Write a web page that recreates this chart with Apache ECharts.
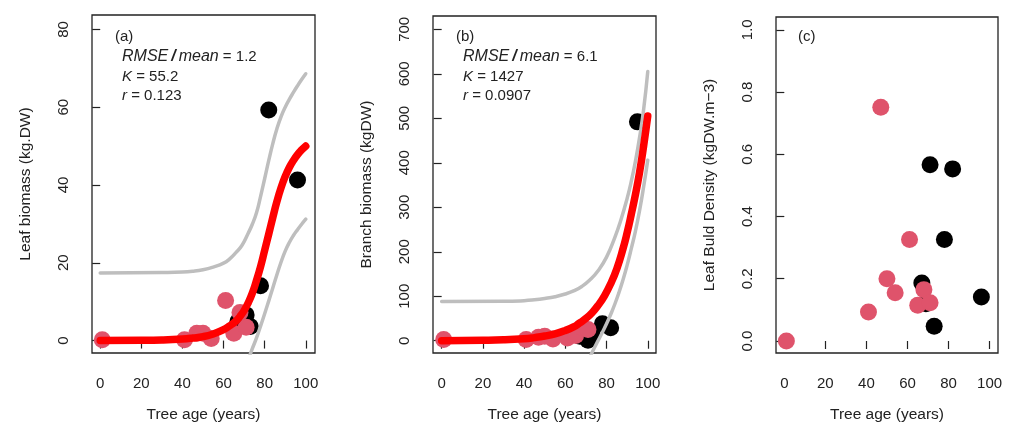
<!DOCTYPE html>
<html>
<head>
<meta charset="utf-8">
<script src="https://cdn.jsdelivr.net/npm/echarts@6.0.0/dist/echarts.min.js"></script>
<style>html,body{margin:0;padding:0;background:#fff}#c{width:1010px;height:430px}</style>
</head>
<body>
<div id="c"></div>
<script>
// ---- data ----
var xTicks = [0, 20, 40, 60, 80, 100];
var yTicksA = [0, 20, 40, 60, 80];
var yTicksB = [0, 100, 200, 300, 400, 500, 600, 700];
var yTicksC = [0, 0.2, 0.4, 0.6, 0.8, 1.0];

// panel (a) leaf biomass
var leafRed = [[1,0.2],[41,0.2],[47,1.9],[50,1.9],[54,0.5],[61,10.3],[65,1.9],[68,7.2],[71,3.4]];
var leafBlack = [[67,4.9],[69,4.0],[71,6.6],[73,3.6],[78,14.1],[82,59.3],[96,41.3]];
var leafFit = [[0,0],[20,0.05],[30,0.15],[40,0.4],[45,0.65],[50,1.0],[55,1.7],[60,2.8],[63,3.8],[66,5.0],[68,6.2],[70,7.7],[72,9.7],[74,12.2],[76,15.4],[78,19.0],[80,23.2],[82,27.4],[84,31.7],[86,35.8],[88,39.3],[90,42.2],[92,44.5],[94,46.3],[96,47.8],[98,49.0],[100,50.0]];
var leafUpper = [[0,17.4],[30,17.5],[40,17.6],[45,17.8],[50,18.2],[55,18.9],[60,19.9],[63,21.0],[66,22.6],[69,24.5],[72,27.6],[74,29.9],[76,32.8],[78,37.0],[80,41.6],[82,46.3],[84,50.7],[86,54.5],[88,57.6],[90,60.0],[92,62.0],[94,63.8],[96,65.5],[98,67.1],[100,68.6]];
var leafLower = [[72,-5.0],[74,-2.1],[76,0.6],[78,3.7],[80,6.9],[82,10.2],[84,13.6],[86,17.0],[88,20.2],[90,23.0],[92,25.2],[94,27.0],[96,28.5],[98,29.9],[100,31.2]];

// panel (b) branch biomass
var branchRed = [[1,3],[41,3],[47,8],[50,10],[54,4],[61,6],[65,12],[68,30],[71,25]];
var branchBlack = [[67,10],[69,12],[71,1],[73,15],[78,38],[82,29],[95,492]];
var branchFit = [[0,0.2],[20,1],[30,2],[40,4.5],[45,7],[50,10.5],[55,15.5],[60,23],[64,31],[67,40],[70,50],[73,63],[76,80],[79,101],[82,128],[85,162],[88,207],[90,243],[92,284],[94,328],[96,378],[98,438],[100,505]];
var branchUpper = [[0,88],[30,88.5],[40,90],[45,92],[50,95],[55,99],[60,105],[64,112],[68,122],[72,137],[76,158],[80,188],[84,232],[87,272],[90,320],[92,358],[94,403],[96,456],[98,520],[100,605]];
var branchLower = [[72,-36],[74,-17],[76,1],[78,19],[80,38],[82,59],[84,82],[86,108],[88,137],[90,170],[92,207],[94,246],[96,292],[98,346],[100,406]];

// panel (c) leaf bulk density
var densRed = [[1,0],[41,0.093],[47,0.751],[50,0.200],[54,0.155],[61,0.326],[65,0.115],[68,0.165],[71,0.123]];
var densBlack = [[67,0.186],[69,0.12],[71,0.566],[73,0.047],[78,0.326],[82,0.553],[96,0.141]];

// annotation texts
var notesA = ['(a)', '{i|RMSE}{sl|/}{i|mean} = 1.2', '{k|K} = 55.2', '{k|r} = 0.123'];
var notesB = ['(b)', '{i|RMSE}{sl|/}{i|mean} = 6.1', '{k|K} = 1427', '{k|r} = 0.0907'];
var notesC = ['(c)'];

// ---- chart ----
var FONT = 'Liberation Sans, Arial, sans-serif';
var TXT = '#222';
var RED_PT = '#DF536B';

var grids = [
  {left: 92, top: 15, width: 223, height: 338},
  {left: 433, top: 16, width: 223, height: 337},
  {left: 776, top: 17, width: 222, height: 336}
];
grids.forEach(function (g) {
  g.show = true; g.borderColor = '#222'; g.borderWidth = 1.3; g.backgroundColor = 'transparent';
  g.containLabel = false; g.outerBoundsMode = 'none';
});

function xAxis(i, min, max) {
  return {
    type: 'value', gridIndex: i, min: min, max: max,
    name: 'Tree age (years)', nameLocation: 'middle', nameGap: 54,
    nameTextStyle: {fontFamily: FONT, fontSize: 15.5, color: TXT},
    axisLine: {show: false}, splitLine: {show: false},
    axisTick: {show: true, inside: false, length: 8, customValues: xTicks, lineStyle: {color: '#222', width: 1.2}},
    axisLabel: {customValues: xTicks, margin: 23, fontFamily: FONT, fontSize: 15, color: TXT}
  };
}
function yAxis(i, min, max, ticks, name, fmt) {
  return {
    type: 'value', gridIndex: i, min: min, max: max,
    name: name, nameLocation: 'middle', nameGap: 58,
    nameTextStyle: {fontFamily: FONT, fontSize: 15.5, color: TXT},
    axisLine: {show: false}, splitLine: {show: false},
    axisTick: {show: true, inside: false, length: 8, customValues: ticks, lineStyle: {color: '#222', width: 1.2}},
    axisLabel: {customValues: ticks, rotate: 90, margin: 21, fontFamily: FONT, fontSize: 15, color: TXT,
      formatter: fmt}
  };
}

function scatter(i, data, color, z) {
  return {type: 'scatter', xAxisIndex: i, yAxisIndex: i, data: data, symbol: 'circle', symbolSize: 17,
    itemStyle: {color: color, opacity: 1}, z: z, silent: true, animation: false};
}
function line(i, data, color, width, z) {
  return {type: 'line', xAxisIndex: i, yAxisIndex: i, data: data, showSymbol: false, smooth: 0.5,
    lineStyle: {color: color, width: width, cap: 'round', join: 'round'}, z: z, clip: true, silent: true, animation: false};
}

function notes(list, x0, x1) {
  var ys = [37, 57, 77, 96];
  return list.map(function (t, k) {
    return {type: 'text', x: k === 0 ? x0 : x1, y: ys[k], silent: true,
      style: {text: t, fontFamily: FONT, fontSize: 15, fill: TXT, verticalAlign: 'middle', align: 'left',
        rich: {
          i: {fontStyle: 'italic', fontFamily: FONT, fontSize: 16, fill: TXT},
          sl: {fontStyle: 'italic', fontFamily: FONT, fontSize: 16, fill: TXT, fontWeight: 'bold', padding: [0, 3, 0, 3]},
          k: {fontStyle: 'italic', fontFamily: FONT, fontSize: 15, fill: TXT}
        }}};
  });
}

var option = {
  backgroundColor: '#fff',
  animation: false,
  grid: grids,
  xAxis: [xAxis(0, -4, 104.5), xAxis(1, -4.2, 104), xAxis(2, -4.05, 104.1)],
  yAxis: [
    yAxis(0, -3.2, 83.7, yTicksA, 'Leaf biomass (kg.DW)', function (v) { return String(v); }),
    yAxis(1, -27.6, 730, yTicksB, 'Branch biomass (kgDW)', function (v) { return String(v); }),
    yAxis(2, -0.0386, 1.041, yTicksC, 'Leaf Buld Density (kgDW.m\u22123)', function (v) { return v.toFixed(1); })
  ],
  series: [
    scatter(0, leafBlack, '#000', 1), scatter(0, leafRed, RED_PT, 2),
    line(0, leafUpper, '#BEBEBE', 3.5, 3), line(0, leafLower, '#BEBEBE', 3.5, 3), line(0, leafFit, '#FF0000', 7.5, 4),
    scatter(1, branchBlack, '#000', 1), scatter(1, branchRed, RED_PT, 2),
    line(1, branchUpper, '#BEBEBE', 3.5, 3), line(1, branchLower, '#BEBEBE', 3.5, 3), line(1, branchFit, '#FF0000', 7.5, 4),
    scatter(2, densBlack, '#000', 1), scatter(2, densRed, RED_PT, 2)
  ],
  graphic: [].concat(notes(notesA, 115, 122), notes(notesB, 456, 463), notes(notesC, 798, 798))
};

var chart = echarts.init(document.getElementById('c'), null, {renderer: 'canvas'});
chart.setOption(option);
</script>
</body>
</html>
